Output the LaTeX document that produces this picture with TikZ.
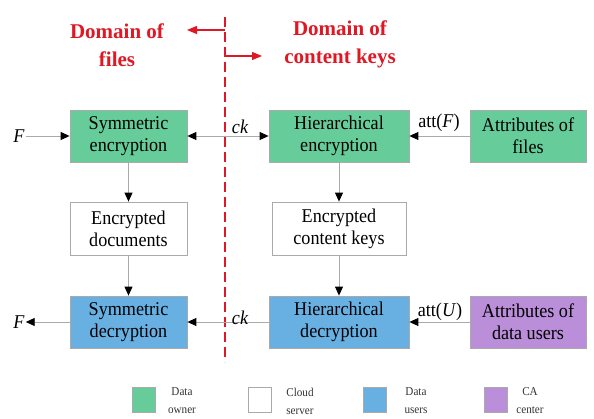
\documentclass[tikz,border=0pt]{standalone}
\usepackage{fontspec}
\setmainfont{Liberation Serif}
\newfontfamily\boxfont{Liberation Serif}[FakeStretch=0.93]
\usetikzlibrary{arrows.meta}
\definecolor{owner}{RGB}{102,204,153}
\definecolor{users}{RGB}{104,176,226}
\definecolor{ca}{RGB}{186,142,216}
\definecolor{domred}{RGB}{222,24,36}
\definecolor{linegray}{RGB}{170,170,170}
\tikzset{
  box/.style={draw=linegray, line width=0.8pt, inner sep=0pt, align=center,
    font=\boxfont\fontsize{19.5}{22}\selectfont, minimum height=52pt},
  ownerbox/.style={box, fill=owner},
  userbox/.style={box, fill=users},
  cabox/.style={box, fill=ca},
  cloudbox/.style={box, fill=white},
  tip/.style={Triangle[length=9pt,width=8pt,color=black]},
  conn/.style={draw=linegray, line width=0.9pt, -{Triangle[length=9pt,width=8pt,color=black]}},
  biconn/.style={draw=linegray, line width=0.9pt, {Triangle[length=9pt,width=8pt,color=black]}-{Triangle[length=9pt,width=8pt,color=black]}},
  lbl/.style={font=\boxfont\fontsize{19.5}{22}\selectfont, inner sep=1pt},
  title/.style={text=domred, font=\fontsize{21}{28}\selectfont\bfseries, align=center},
  domarrow/.style={draw=domred, line width=1.2pt, -{Triangle[length=10pt,width=8pt,color=domred]}},
  legsq/.style={draw=linegray, line width=0.8pt, minimum width=23pt, minimum height=25pt, inner sep=0pt},
  legtxt/.style={font=\boxfont\fontsize{12}{18}\selectfont, align=center, text=black!80},
}
\begin{document}
\begin{tikzpicture}[x=1pt,y=-1pt]
\useasboundingbox (0,0) rectangle (594,419);
% domain split
\draw[domred, line width=1.3pt, dash pattern=on 10pt off 5pt] (225,17) -- (225,362);
\node[title] (tl) at (117,45) {Domain of\\files};
\node[title] (tr) at (340,44) {Domain of\\content keys};
\coordinate (al0) at (225,30);
\coordinate (al1) at (187,30);
\coordinate (ar0) at (225,56);
\coordinate (ar1) at (262,56);
\draw[domarrow] (al0) -- (al1);
\draw[domarrow] (ar0) -- (ar1);
% boxes
\node[ownerbox, minimum width=117pt] (se) at (128.5,136) {Symmetric\\encryption};
\node[ownerbox, minimum width=140pt] (he) at (339,136) {Hierarchical\\encryption};
\node[ownerbox, minimum width=116pt] (af) at (528,136) {Attributes of\\files};
\node[cloudbox, minimum width=117pt, minimum height=53pt] (ed) at (128.5,228.5) {Encrypted\\documents};
\node[cloudbox, minimum width=134pt, minimum height=53pt] (eck) at (339,228.5) {Encrypted\\content keys};
\node[userbox, minimum width=117pt] (sd) at (128.5,322) {Symmetric\\decryption};
\node[userbox, minimum width=140pt] (hd) at (339,322) {Hierarchical\\decryption};
\node[cabox, minimum width=116pt] (au) at (528,322) {Attributes of\\data users};
% F terminals
\node[lbl] (f1) at (19,136) {\itshape F};
\node[lbl] (f2) at (19,322) {\itshape F};
% connectors
\draw[conn] (f1) -- (se);
\draw[biconn] (se) -- (he);
\draw[conn] (af) -- (he);
\draw[conn] (se) -- (ed);
\draw[conn] (ed) -- (sd);
\draw[conn] (he) -- (eck);
\draw[conn] (eck) -- (hd);
\draw[conn] (hd) -- (sd);
\draw[conn] (au) -- (hd);
\draw[conn] (sd) -- (f2);
% labels
\node[lbl] (ck1) at (240,127) {\itshape ck};
\node[lbl] (ck2) at (240,318) {\itshape ck};
\node[lbl] (attf) at (439,123) {att(\textit{F})};
\node[lbl] (attu) at (440,312) {att(\textit{U})};
% legend
\node[legsq, fill=owner] (l1) at (144,400) {};
\node[legsq, fill=white] (l2) at (260,400) {};
\node[legsq, fill=users] (l3) at (375,400) {};
\node[legsq, fill=ca] (l4) at (496,400) {};
\node[legtxt] (t1) at (182,401) {Data\\owner};
\node[legtxt] (t2) at (300,401) {Cloud\\server};
\node[legtxt] (t3) at (416,401) {Data\\users};
\node[legtxt] (t4) at (530,401) {CA\\center};
\end{tikzpicture}
\end{document}
